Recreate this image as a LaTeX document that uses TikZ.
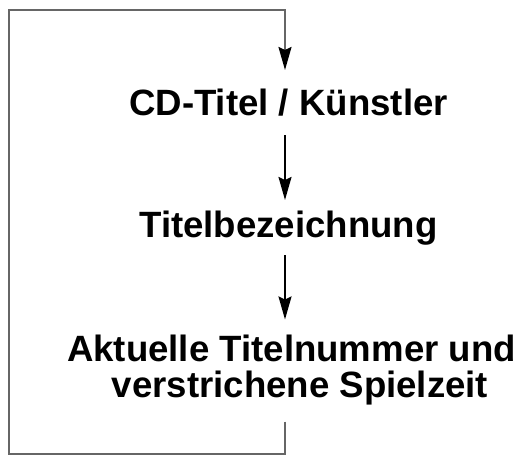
\documentclass[tikz,border=0pt]{standalone}
\usepackage{fontspec}
\setmainfont{Liberation Sans}
\usetikzlibrary{arrows.meta,calc}
\definecolor{loopgray}{HTML}{666666}
\tikzset{
  label text/.style={font=\fontsize{36.6}{36.5}\selectfont\bfseries, inner sep=0pt, outer sep=0pt, text=black},
  flowarrow/.style={draw=black, line width=1.6pt, -{Stealth[length=23pt,width=13pt,inset=3pt]}},
  loopline/.style={draw=loopgray, line width=2pt, -{Stealth[length=23pt,width=13pt,inset=3pt,color=black]}},
}
\begin{document}
\begin{tikzpicture}[x=1pt,y=-1pt]
\useasboundingbox (0,0) rectangle (520,457);
\coordinate (ax) at (285,0);
\coordinate (lb) at (8.5,454);
\coordinate (lt) at (8.5,10.5);
\node[label text, anchor=base] (t1) at (288.5,115.5) {CD-Titel / Künstler};
\node[label text, anchor=base] (t2) at (288.5,238) {Titelbezeichnung};
\node[label text, anchor=base, align=center] (t3) at (291.5,398) {Aktuelle Titelnummer und\\\hspace*{17pt}verstrichene Spielzeit};
\draw[flowarrow, shorten <=19pt, shorten >=11.5pt] (ax |- t1.south) -- (ax |- t2.north);
\draw[flowarrow, shorten <=9.3pt, shorten >=15.5pt] (ax |- t2.south) -- (ax |- t3.north);
\draw[loopline, shorten >=19pt] ([yshift=-16pt]ax |- t3.south) |- (lb) -- (lt) -| (ax |- t1.north);
\end{tikzpicture}
\end{document}
